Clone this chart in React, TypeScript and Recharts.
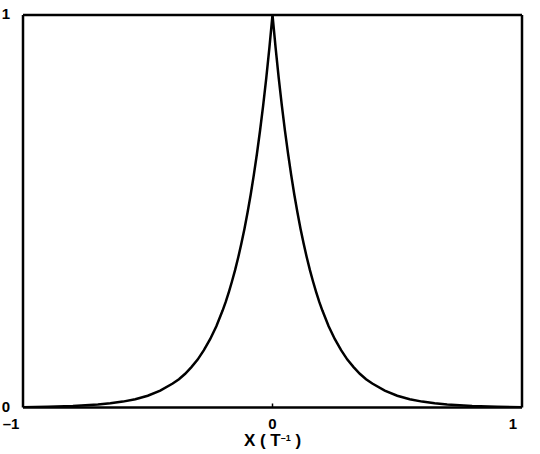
import React from 'react';
import { LineChart, Line, XAxis, YAxis } from 'recharts';

// Positive half of the curve; the curve is symmetric about x = 0
const halfX = [0, 0.0125, 0.025, 0.0375, 0.05, 0.0625, 0.075, 0.0875, 0.1, 0.1125, 0.125, 0.1375, 0.15, 0.1625, 0.175, 0.1875, 0.2, 0.225, 0.25, 0.275, 0.3, 0.325, 0.35, 0.375, 0.4, 0.45, 0.5, 0.55, 0.6, 0.65, 0.7, 0.8, 0.9, 1.0];
const halfY = [1, 0.916, 0.839, 0.769, 0.705, 0.646, 0.592, 0.542, 0.497, 0.455, 0.417, 0.382, 0.35, 0.321, 0.294, 0.269, 0.247, 0.207, 0.174, 0.146, 0.122, 0.103, 0.086, 0.072, 0.061, 0.043, 0.03, 0.021, 0.015, 0.0106, 0.0074, 0.0037, 0.0018, 0.0009];

const xTicks = [-1, 0, 1];
const xTickLabels = ['\u20131', '0', '1'];
const yTicks = [0, 1];
const yTickLabels = ['0', '1'];

const data = [
  ...halfX.slice(1).map((x, i) => ({ x: -x, y: halfY[i + 1] })).reverse(),
  ...halfX.map((x, i) => ({ x, y: halfY[i] })),
];

const FONT = '"Liberation Sans", Arial, Helvetica, sans-serif';
const xLabelShift: Record<number, number> = { [-1]: -12, 0: 0, 1: -9 };

const BottomTick = (props: any) => {
  const { x, y, payload } = props;
  const v = payload.value;
  const idx = xTicks.indexOf(v);
  const inner = v !== -1 && v !== 1;
  return (
    <g>
      {inner && <line x1={x} x2={x} y1={y} y2={y - 4} stroke="#000" strokeWidth={1.5} />}
      <text x={x + (xLabelShift[v] ?? 0)} y={y + 21} textAnchor="middle" fontFamily={FONT} fontWeight="bold" fontSize={15} fill="#000">
        {xTickLabels[idx]}
      </text>
    </g>
  );
};

const TopTick = (props: any) => {
  const { x, y, payload } = props;
  const v = payload.value;
  if (v === -1 || v === 1) return <g />;
  return <line x1={x} x2={x} y1={y} y2={y + 4} stroke="#000" strokeWidth={1.5} />;
};

const LeftTick = (props: any) => {
  const { y, payload } = props;
  const idx = yTicks.indexOf(payload.value);
  return (
    <text x={10} y={y + 4} textAnchor="end" fontFamily={FONT} fontWeight="bold" fontSize={15} fill="#000">
      {yTickLabels[idx]}
    </text>
  );
};

const XLabel = (props: any) => {
  const vb = props.viewBox || {};
  const cx = (vb.x ?? 0) + (vb.width ?? 0) / 2;
  const base = (vb.y ?? 0) + 38;
  return (
    <text x={cx} y={base} textAnchor="middle" fontFamily={FONT} fontWeight="bold" fontSize={17} fill="#000">
      X ( T<tspan fontSize={9} dy={-5}>{'\u20131'}</tspan><tspan dy={5}> )</tspan>
    </text>
  );
};

const AXIS_LINE = { stroke: '#000', strokeWidth: 2.5 };

export default function App() {
  return (
    <div style={{ position: 'absolute', left: 0, top: 0, width: 540, height: 454, background: '#fff' }}>
      <LineChart width={540} height={454} data={data} margin={{ top: 14, right: 17, bottom: 0, left: 0 }}>
        <XAxis
          dataKey="x"
          type="number"
          domain={[-1, 1]}
          ticks={xTicks}
          height={46.5}
          tickSize={0}
          tickMargin={0}
          tickLine={false}
          axisLine={AXIS_LINE}
          tick={BottomTick}
          interval={0}
          allowDataOverflow
          label={{ content: XLabel } as any}
        />
        <XAxis
          xAxisId="top"
          orientation="top"
          dataKey="x"
          type="number"
          domain={[-1, 1]}
          ticks={xTicks}
          height={1}
          tickSize={0}
          tickMargin={0}
          tickLine={false}
          axisLine={AXIS_LINE}
          tick={TopTick}
          interval={0}
          allowDataOverflow
        />
        <YAxis
          type="number"
          domain={[0, 1]}
          ticks={yTicks}
          width={23}
          tickSize={0}
          tickMargin={0}
          tickLine={false}
          axisLine={AXIS_LINE}
          tick={LeftTick}
          interval={0}
          allowDataOverflow
        />
        <YAxis
          yAxisId="right"
          orientation="right"
          type="number"
          domain={[0, 1]}
          ticks={yTicks}
          width={1}
          tick={false}
          tickLine={false}
          axisLine={AXIS_LINE}
          allowDataOverflow
        />
        <Line
          xAxisId="top"
          yAxisId="right"
          dataKey="y"
          type="linear"
          stroke="none"
          strokeWidth={0}
          dot={false}
          activeDot={false}
          legendType="none"
          isAnimationActive={false}
        />
        <Line
          dataKey="y"
          type="linear"
          stroke="#000"
          strokeWidth={2.5}
          dot={false}
          isAnimationActive={false}
        />
      </LineChart>
    </div>
  );
}
